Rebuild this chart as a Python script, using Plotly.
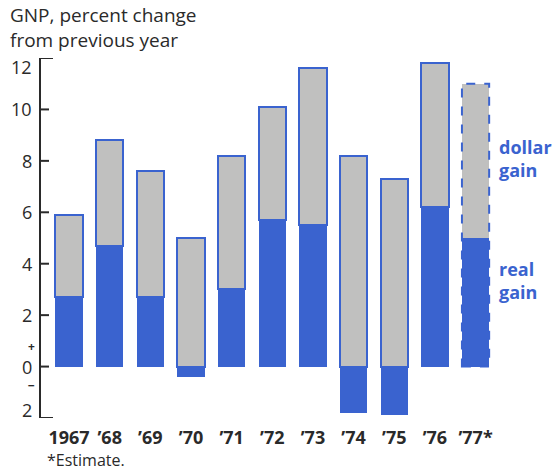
import plotly.graph_objects as go

# ---- data ----
years = ["1967", "’68", "’69", "’70", "’71", "’72", "’73", "’74", "’75", "’76", "’77*"]
dollar_gain = [5.9, 8.8, 7.6, 5.0, 8.2, 10.1, 11.6, 8.2, 7.3, 11.8, 11.0]
real_gain = [2.7, 4.7, 2.7, -0.4, 3.0, 5.7, 5.5, -1.8, -1.9, 6.2, 5.0]
is_estimate = [False, False, False, False, False, False, False, False, False, False, True]
y_tickvals = [-2, 0, 2, 4, 6, 8, 10, 12]
y_ticktext = ["2", "0", "2", "4", "6", "8", "10", "12"]

BLUE = "#3a63cf"
GREY = "#c0c0bf"
TEXT = "#2a2a2a"
FONT = "Open Sans"
BAR_W = 0.67
PLOT_W = 554 - 41

xs = list(range(len(years)))
grey_base = [max(r, 0) for r in real_gain]
grey_h = [d - b for d, b in zip(dollar_gain, grey_base)]
grey_line_w = [0 if e else 2 for e in is_estimate]

fig = go.Figure()
fig.add_trace(go.Bar(
    x=xs, y=real_gain, base=0, width=BAR_W,
    marker=dict(color=BLUE, line=dict(width=0)),
    showlegend=False, hoverinfo="skip",
))
fig.add_trace(go.Bar(
    x=xs, y=grey_h, base=grey_base, width=BAR_W,
    marker=dict(color=GREY, line=dict(color=BLUE, width=grey_line_w)),
    showlegend=False, hoverinfo="skip",
))

# dashed outline for estimated year
for i, e in enumerate(is_estimate):
    if e:
        fig.add_shape(type="rect", xref="x", yref="y",
                      x0=xs[i] - BAR_W / 2, x1=xs[i] + BAR_W / 2,
                      y0=min(real_gain[i], 0), y1=dollar_gain[i],
                      line=dict(color=BLUE, width=2, dash="dash"))

# inward tick marks (bracket ends longer)
ends = (min(y_tickvals), max(y_tickvals))
for v in y_tickvals:
    ln = 12 if v in ends else 8
    fig.add_shape(type="line", xref="paper", yref="y",
                  x0=0, x1=ln / PLOT_W, y0=v, y1=v,
                  line=dict(color=TEXT, width=2))

# tick labels: end labels sit slightly inside the bracket
annotations = []
for v, t in zip(y_tickvals, y_ticktext):
    shift = -9 if v == max(y_tickvals) else (8 if v == min(y_tickvals) else 0)
    annotations.append(dict(text=t, xref="paper", yref="y", x=0, xshift=-7, y=v, yshift=shift,
                            xanchor="right", yanchor="middle", showarrow=False,
                            font=dict(family=FONT, size=18, color=TEXT)))

annotations += [
    dict(text="GNP, percent change<br>from previous year", xref="paper", yref="paper",
         x=-0.064, y=1.16, xanchor="left", yanchor="top", align="left",
         showarrow=False, font=dict(family=FONT, size=19, color=TEXT)),
    dict(text="+", xref="paper", yref="y", x=0, xshift=-15, y=0.78,
         showarrow=False, font=dict(family=FONT, size=12, color=TEXT, weight="bold")),
    dict(text="−", xref="paper", yref="y", x=0, xshift=-15, y=-0.74,
         showarrow=False, font=dict(family=FONT, size=12, color=TEXT, weight="bold")),
    dict(text="dollar<br>gain", xref="x", yref="y", x=10.53, y=8.1,
         xanchor="left", yanchor="middle", align="left", showarrow=False,
         font=dict(family=FONT, size=18, color=BLUE, weight="bold")),
    dict(text="real<br>gain", xref="x", yref="y", x=10.53, y=3.35,
         xanchor="left", yanchor="middle", align="left", showarrow=False,
         font=dict(family=FONT, size=18, color=BLUE, weight="bold")),
    dict(text="*Estimate.", xref="paper", yref="paper", x=0.008, y=-0.117,
         xanchor="left", yanchor="middle", showarrow=False,
         font=dict(family=FONT, size=16, color=TEXT)),
]

fig.update_layout(
    width=554, height=471,
    margin=dict(l=41, r=0, t=58, b=53),
    plot_bgcolor="white", paper_bgcolor="white",
    barmode="overlay", bargap=0,
    font=dict(family=FONT, color=TEXT, size=16),
    xaxis=dict(
        range=[-0.69, 11.93], tickmode="array", tickvals=xs, ticktext=years,
        showline=False, showgrid=False, zeroline=False, ticks="",
        ticklabelstandoff=7,
        tickfont=dict(family=FONT, size=18, color=TEXT, weight="bold"),
    ),
    yaxis=dict(
        range=[-2, 12], tickmode="array", tickvals=y_tickvals,
        showticklabels=False,
        showline=True, linecolor=TEXT, linewidth=2, mirror=False,
        ticks="", showgrid=False, zeroline=False,
    ),
    annotations=annotations,
)

fig.write_html("out.html", post_script="document.body.style.margin='0';",
               config={"displayModeBar": False})
